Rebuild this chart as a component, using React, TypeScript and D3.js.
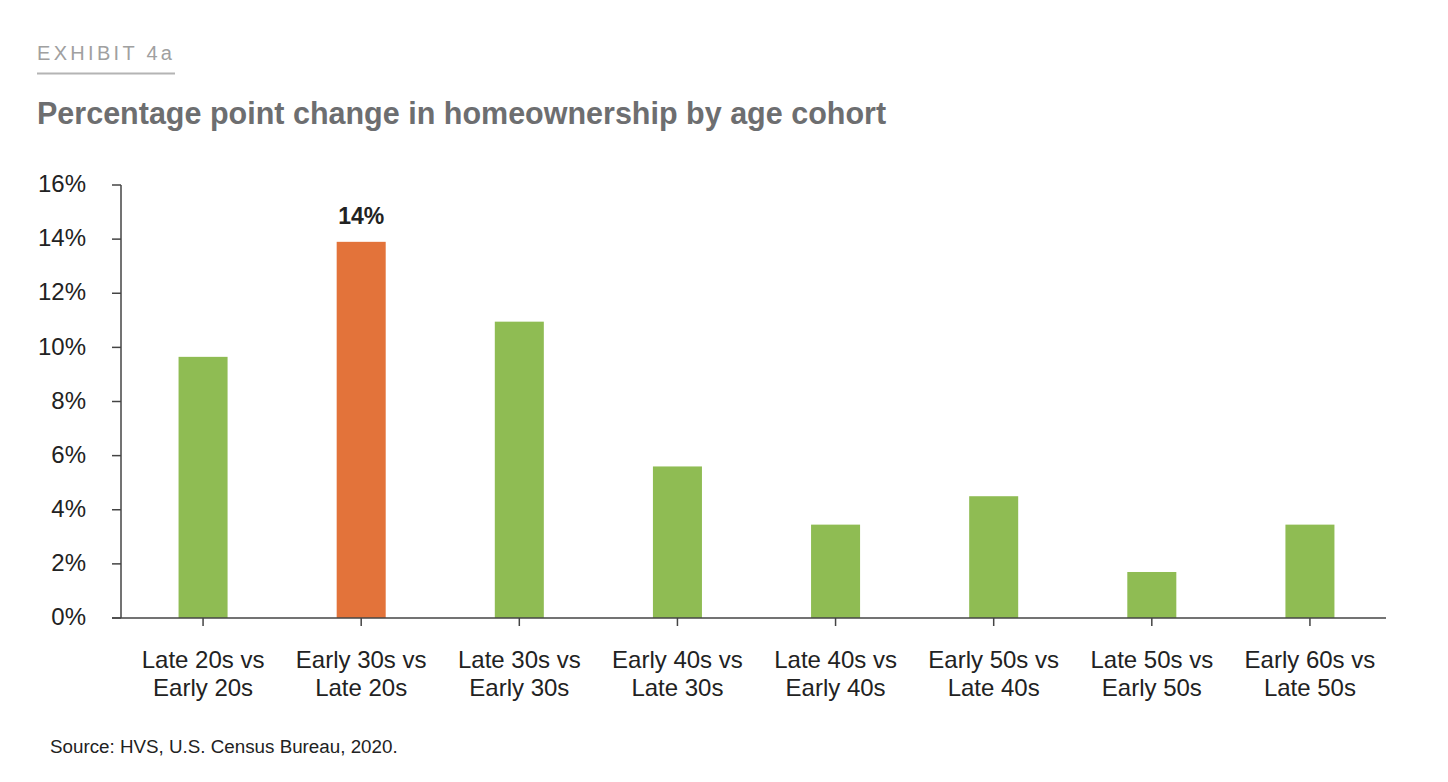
import React from 'react';
import * as d3 from 'd3';

const categories = [
  ['Late 20s vs', 'Early 20s'],
  ['Early 30s vs', 'Late 20s'],
  ['Late 30s vs', 'Early 30s'],
  ['Early 40s vs', 'Late 30s'],
  ['Late 40s vs', 'Early 40s'],
  ['Early 50s vs', 'Late 40s'],
  ['Late 50s vs', 'Early 50s'],
  ['Early 60s vs', 'Late 50s'],
];
const values = [9.65, 13.9, 10.95, 5.6, 3.45, 4.5, 1.7, 3.45];
const highlighted = [false, true, false, false, false, false, false, false];
const yTicks = [0, 2, 4, 6, 8, 10, 12, 14, 16];

const W = 1448;
const H = 782;
const FONT = "'Liberation Sans', Arial, Helvetica, sans-serif";
const GREEN = '#8fbc53';
const ORANGE = '#e3733a';

const App: React.FC = () => {
  const left = 121;
  const right = 1386;
  const top = 185;
  const bottom = 618;

  // bands are nudged a few px right of the axis, as in the source
  const x = d3.scaleBand<number>()
    .domain(d3.range(values.length))
    .range([left + 3, right + 3])
    .paddingInner(0.69)
    .paddingOuter(0.345);

  const y = d3.scaleLinear().domain([0, 16]).range([bottom, top]);

  return (
    <svg width={W} height={H} style={{ position: 'absolute', left: 0, top: 0, background: '#fff' }}>
      <text x={37} y={60} fontFamily={FONT} fontSize={20} fill="#a0a0a0" letterSpacing="3.3">EXHIBIT 4a</text>
      <line x1={37} x2={175} y1={73.5} y2={73.5} stroke="#b4b4b4" strokeWidth={2} />
      <text x={37} y={124} fontFamily={FONT} fontSize={30.5} fontWeight="bold" fill="#6d6e70">
        Percentage point change in homeownership by age cohort
      </text>

      {/* y axis */}
      <line x1={left} x2={left} y1={top} y2={bottom} stroke="#444" strokeWidth={1.5} />
      {yTicks.map(t => (
        <g key={t}>
          <line x1={left - 9} x2={left} y1={y(t)} y2={y(t)} stroke="#444" strokeWidth={1.5} />
          <text x={86} y={y(t)} dy="0.3em" textAnchor="end" fontFamily={FONT} fontSize={24} fill="#222">
            {t}%
          </text>
        </g>
      ))}

      {/* bars */}
      {values.map((v, i) => (
        <rect
          key={i}
          x={x(i)}
          y={y(v)}
          width={x.bandwidth()}
          height={bottom - y(v)}
          fill={highlighted[i] ? ORANGE : GREEN}
        />
      ))}

      {values.map((v, i) => highlighted[i] ? (
        <text key={i} x={(x(i) as number) + x.bandwidth() / 2} y={y(v) - 18} textAnchor="middle"
          fontFamily={FONT} fontSize={23} fontWeight="bold" fill="#222">
          {Math.round(v)}%
        </text>
      ) : null)}

      {/* x axis */}
      <line x1={left - 9} x2={right} y1={bottom} y2={bottom} stroke="#444" strokeWidth={1.5} />
      {categories.map((c, i) => {
        const cx = (x(i) as number) + x.bandwidth() / 2;
        return (
          <g key={i}>
            <line x1={cx} x2={cx} y1={bottom} y2={bottom + 8} stroke="#444" strokeWidth={1.5} />
            <text x={cx} y={668} textAnchor="middle" fontFamily={FONT} fontSize={24} fill="#222">{c[0]}</text>
            <text x={cx} y={696} textAnchor="middle" fontFamily={FONT} fontSize={24} fill="#222">{c[1]}</text>
          </g>
        );
      })}

      <text x={50} y={753} fontFamily={FONT} fontSize={18.8} fill="#222">Source: HVS, U.S. Census Bureau, 2020.</text>
    </svg>
  );
};

export default App;
